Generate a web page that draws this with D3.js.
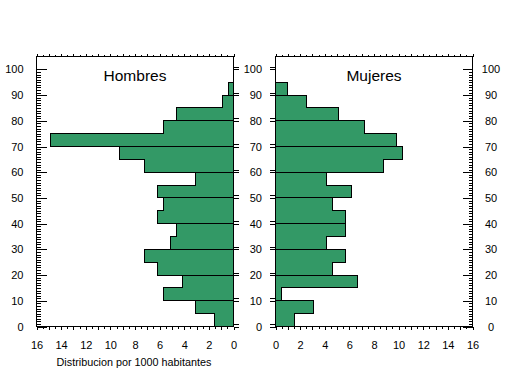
<!DOCTYPE html>
<html>
<head>
<meta charset="utf-8">
<script src="https://cdn.jsdelivr.net/npm/d3@7"></script>
<style>
  html, body { margin: 0; padding: 0; background: #ffffff; }
  svg { display: block; }
  text { font-family: "Liberation Sans", Arial, sans-serif; fill: #000; }
</style>
</head>
<body>
<svg id="chart" width="509" height="376"></svg>
<script>
// ---- data ----
const ageStarts = [0, 5, 10, 15, 20, 25, 30, 35, 40, 45, 50, 55, 60, 65, 70, 75, 80, 85, 90, 95];
const hombres = [1.52, 3.06, 5.66, 4.12, 6.15, 7.2, 5.09, 4.63, 6.15, 5.66, 6.15, 3.06, 7.2, 9.23, 14.9, 5.66, 4.63, 0.92, 0.43, 0];
const mujeres = [1.54, 3.09, 0.49, 6.66, 4.63, 5.69, 4.14, 5.69, 5.69, 4.63, 6.17, 4.14, 8.75, 10.3, 9.8, 7.23, 5.12, 2.52, 0.98, 0];
const yTicks = [0, 10, 20, 30, 40, 50, 60, 70, 80, 90, 100];
const xTicks = [0, 2, 4, 6, 8, 10, 12, 14, 16];
const titles = ["Hombres", "Mujeres"];
const xLabel = "Distribucion por 1000 habitantes";
const binWidth = 5;

const svg = d3.select("#chart");
const green = "#339966";

const plotTop = 56.5, plotBottom = 326.5;
const y = d3.scaleLinear().domain([0, 105]).range([plotBottom, plotTop]);
const xL = d3.scaleLinear().domain([16, 0]).range([36.5, 233.5]);
const xR = d3.scaleLinear().domain([0, 16]).range([275.5, 472.5]);

const halfTicks = d3.range(0, 16.01, 0.5);
const intTicks = halfTicks.filter(v => Math.abs(v - Math.round(v)) < 1e-6);
const halfOnly = halfTicks.filter(v => Math.abs(v - Math.round(v)) > 1e-6);
const minorY = d3.range(0, 101, 1).filter(v => v % 10 !== 0);
const doubleY = yTicks.map(v => v + 1);

function styleAxis(g) {
  g.select(".domain").remove();
  g.selectAll("line").attr("stroke", "#000").attr("shape-rendering", "crispEdges");
  g.selectAll("text").attr("font-size", "11px").attr("fill", "#000");
}

function panel(x, values, title, side) {
  const g = svg.append("g");
  const zero = x(0);
  for (let i = 0; i < values.length; i += 2) {
    const d0 = ageStarts[i];
    const a = values[i], b = values[i + 1];
    const p = d3.path();
    p.moveTo(zero, y(d0));
    p.lineTo(x(a), y(d0));
    p.lineTo(x(a), y(d0 + binWidth));
    p.lineTo(x(b), y(d0 + binWidth));
    p.lineTo(x(b), y(d0 + 2 * binWidth));
    p.lineTo(zero, y(d0 + 2 * binWidth));
    p.closePath();
    g.append("path").attr("d", p.toString())
      .attr("fill", green).attr("stroke", "#000").attr("stroke-width", 1)
      .attr("shape-rendering", "crispEdges");
  }
  const x0 = Math.min(x.range()[0], x.range()[1]);
  const x1 = Math.max(x.range()[0], x.range()[1]);

  g.append("g").attr("transform", `translate(0,${plotTop})`)
    .call(d3.axisTop(x).tickValues(intTicks).tickSize(3).tickSizeOuter(0).tickFormat(""))
    .call(styleAxis);
  g.append("g").attr("transform", `translate(0,${plotTop})`)
    .call(d3.axisTop(x).tickValues(halfOnly).tickSize(1.5).tickSizeOuter(0).tickFormat(""))
    .call(styleAxis);
  g.append("g").attr("transform", `translate(0,${plotBottom})`)
    .call(d3.axisBottom(x).tickValues(intTicks).tickSize(3).tickSizeOuter(0).tickFormat(""))
    .call(styleAxis);
  g.append("g").attr("transform", `translate(0,${plotBottom})`)
    .call(d3.axisBottom(x).tickValues(halfOnly).tickSize(2).tickSizeOuter(0).tickFormat(""))
    .call(styleAxis);
  g.append("g").attr("transform", `translate(0,${plotBottom})`)
    .call(d3.axisBottom(x).tickValues(xTicks).tickSize(0).tickPadding(15).tickSizeOuter(0).tickFormat(d3.format("d")))
    .call(styleAxis);

  if (side === "left") {
    g.append("g").attr("transform", `translate(${x0},0)`)
      .call(d3.axisLeft(y).tickValues(yTicks).tickSize(-10).tickPadding(13).tickSizeOuter(0).tickFormat(d3.format("d")))
      .call(styleAxis);
    g.append("g").attr("transform", `translate(${x0},0)`)
      .call(d3.axisLeft(y).tickValues(minorY).tickSize(-4).tickSizeOuter(0).tickFormat(""))
      .call(styleAxis);
    g.append("g").attr("transform", `translate(${x1},0)`)
      .call(d3.axisRight(y).tickValues(yTicks.concat(doubleY)).tickSize(5).tickSizeOuter(0).tickFormat(""))
      .call(styleAxis);
  } else {
    g.append("g").attr("transform", `translate(${x0},0)`)
      .call(d3.axisLeft(y).tickValues(yTicks.concat(doubleY)).tickSize(6).tickSizeOuter(0).tickFormat(""))
      .call(styleAxis);
    g.append("g").attr("transform", `translate(${x0},0)`)
      .call(d3.axisLeft(y).tickValues(yTicks).tickSize(0).tickPadding(13.5).tickSizeOuter(0).tickFormat(d3.format("d")))
      .call(styleAxis);
    const ra = g.append("g").attr("transform", `translate(${x1},0)`)
      .call(d3.axisRight(y).tickValues(yTicks).tickSize(-10).tickPadding(18.5).tickSizeOuter(0).tickFormat(d3.format("d")))
      .call(styleAxis);
    ra.selectAll("text").attr("text-anchor", "middle");
    g.append("g").attr("transform", `translate(${x1},0)`)
      .call(d3.axisRight(y).tickValues(minorY).tickSize(-4).tickSizeOuter(0).tickFormat(""))
      .call(styleAxis);
  }

  g.append("rect").attr("x", x0).attr("y", plotTop).attr("width", x1 - x0).attr("height", plotBottom - plotTop)
    .attr("fill", "none").attr("stroke", "#000").attr("shape-rendering", "crispEdges");

  g.append("text").attr("x", (x0 + x1) / 2).attr("y", 81)
    .attr("text-anchor", "middle").attr("font-size", "15.5px").text(title);
}

panel(xL, hombres, titles[0], "left");
panel(xR, mujeres, titles[1], "right");

svg.append("text").attr("x", 134).attr("y", 366)
  .attr("text-anchor", "middle").attr("font-size", "10.8px").text(xLabel);
</script>
</body>
</html>
